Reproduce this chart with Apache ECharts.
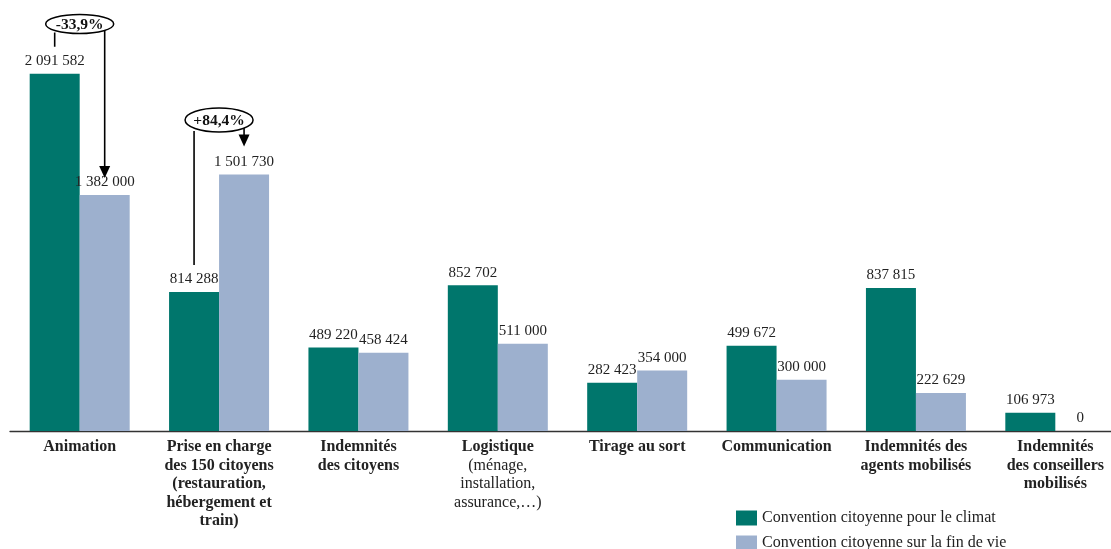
<!DOCTYPE html>
<html>
<head>
<meta charset="utf-8">
<script src="https://cdn.jsdelivr.net/npm/echarts@6/dist/echarts.min.js"></script>
<style>
html,body{margin:0;padding:0;background:#fff;overflow:hidden;width:1111px;height:549px;}
#c{width:1126px;height:549px;}
</style>
</head>
<body>
<div id="c"></div>
<script>
// ---- data ----
var categories = [
  'Animation',
  'Prise en charge\ndes 150 citoyens\n(restauration,\nhébergement et\ntrain)',
  'Indemnités\ndes citoyens',
  'Logistique',
  'Tirage au sort',
  'Communication',
  'Indemnités des\nagents mobilisés',
  'Indemnités\ndes conseillers\nmobilisés'
];
var categoryNotes = ['', '', '', '(ménage,\ninstallation,\nassurance,…)', '', '', '', ''];
var seriesNames = ['Convention citoyenne pour le climat', 'Convention citoyenne sur la fin de vie'];
var climat = [2091582, 814288, 489220, 852702, 282423, 499672, 837815, 106973];
var finDeVie = [1382000, 1501730, 458424, 511000, 354000, 300000, 222629, 0];
var annotations = [
  {cat: 0, text: '-33,9%'},
  {cat: 1, text: '+84,4%'}
];

var FONT = '"Liberation Serif", "DejaVu Serif", serif';
var GREEN = '#00766C';
var BLUE = '#9DB0CE';

function fmt(v) {
  return String(v).replace(/\B(?=(\d{3})+(?!\d))/g, ' ');
}

var chart = echarts.init(document.getElementById('c'));
var legendText = {fontFamily: FONT, fontSize: 16, color: '#222'};
var option = {
  animation: false,
  backgroundColor: '#fff',
  grid: {left: 10, top: 4, right: 1, height: 427, containLabel: false},
  legend: [
    {left: 731, top: 505, itemWidth: 21, itemHeight: 15, icon: 'rect', itemStyle: {borderWidth: 0}, textStyle: legendText, data: [seriesNames[0]]},
    {left: 731, top: 530, itemWidth: 21, itemHeight: 15, icon: 'rect', itemStyle: {borderWidth: 0}, textStyle: legendText, data: [seriesNames[1]]}
  ],
  xAxis: {
    type: 'category',
    data: categories,
    axisLine: {lineStyle: {color: '#333', width: 1.3}},
    axisTick: {show: false},
    axisLabel: {
      interval: 0, margin: 7,
      fontFamily: FONT, fontSize: 16, color: '#222',
      lineHeight: 18,
      formatter: function (val, idx) {
        var lines = val.split('\n').map(function (l) { return '{b|' + l + '}'; });
        var note = categoryNotes[idx];
        if (note) {
          note.split('\n').forEach(function (l) { lines.push('{n|' + l + '}'); });
        }
        return lines.join('\n');
      },
      rich: {
        b: {fontFamily: FONT, fontSize: 16, fontWeight: 'bold', color: '#222', lineHeight: 18.5},
        n: {fontFamily: FONT, fontSize: 16, fontWeight: 'normal', color: '#222', lineHeight: 18.5}
      }
    }
  },
  yAxis: {
    type: 'value', min: 0, max: 2500000,
    show: false,
    splitLine: {show: false}
  },
  series: [
    {
      name: seriesNames[0], type: 'bar', data: climat,
      barWidth: 50, barGap: '0%',
      itemStyle: {color: GREEN},
      label: {show: true, position: 'top', distance: 5, fontFamily: FONT, fontSize: 15, color: '#222', formatter: function (p) { return fmt(p.value); }}
    },
    {
      name: seriesNames[1], type: 'bar', data: finDeVie,
      barWidth: 50, barGap: '0%',
      itemStyle: {color: BLUE},
      label: {show: true, position: 'top', distance: 5, fontFamily: FONT, fontSize: 15, color: '#222', formatter: function (p) { return fmt(p.value); }}
    }
  ]
};
chart.setOption(option);

// ---- annotations (positions derived from axes) ----
function px(cat, val) { return chart.convertToPixel({xAxisIndex: 0, yAxisIndex: 0}, [cat, val]); }
var graphics = [];
var ellipseY = [24, 120];
annotations.forEach(function (a, i) {
  var c = px(a.cat, 0);
  var cx = c[0];
  var gx = cx - 25, bx = cx + 25;
  var gTop = px(a.cat, climat[a.cat])[1];
  var bTop = px(a.cat, finDeVie[a.cat])[1];
  var ey = ellipseY[i];
  var rx = 34, ry = i === 0 ? 9.5 : 12;
  var tipY = i === 0 ? bTop - 17 : bTop - 28;
  graphics.push({type: 'line', z: 100, shape: {x1: gx, y1: ey + ry - 1, x2: gx, y2: gTop - 27}, style: {stroke: '#000', lineWidth: 1.6}});
  graphics.push({type: 'line', z: 100, shape: {x1: bx, y1: ey + ry * 0.6, x2: bx, y2: tipY - 10}, style: {stroke: '#000', lineWidth: 1.6}});
  graphics.push({type: 'polygon', z: 100, shape: {points: [[bx - 5.5, tipY - 12], [bx + 5.5, tipY - 12], [bx, tipY]]}, style: {fill: '#000'}});
  graphics.push({type: 'ellipse', z: 101, shape: {cx: cx, cy: ey, rx: rx, ry: ry}, style: {fill: '#fff', stroke: '#000', lineWidth: 1.5}});
  graphics.push({type: 'text', z: 102, x: cx, y: ey + 1, style: {text: a.text, fontFamily: FONT, fontSize: 15.5, fontWeight: 'bold', fill: '#111', align: 'center', verticalAlign: 'middle'}});
});
chart.setOption({graphic: graphics});
</script>
</body>
</html>
